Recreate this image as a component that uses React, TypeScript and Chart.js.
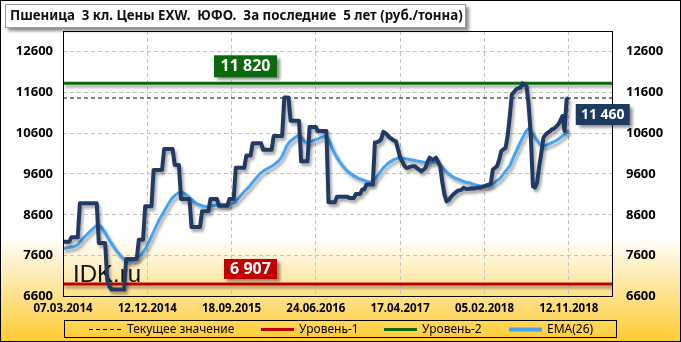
import React, { useEffect, useRef } from 'react';
import { Chart, registerables } from 'chart.js';
Chart.register(...registerables);

const TITLE = 'Пшеница  3 кл. Цены EXW.  ЮФО.  За последние  5 лет (руб./тонна)';
const dateLabels = ['07.03.2014', '12.12.2014', '18.09.2015', '24.06.2016', '17.04.2017', '05.02.2018', '12.11.2018'];
const labelStep = 40; // weeks between date labels
const weeksOnAxis = 261;
const yTicks = [6600, 7600, 8600, 9600, 10600, 11600, 12600];
const yMin = 6600;
const yMax = 13100;
const level1 = 6907;
const level2 = 11820;
const currentValue = 11460;
const legendNames = ['Текущее значение', 'Уровень-1', 'Уровень-2', 'EMA(26)'];

// weekly prices, rub/t
const price = [
  7940, 7940, 7940, 7940, 8050, 8050, 8050, 8050, 8880, 8880,
  8880, 8880, 8880, 8880, 8880, 8880, 8880, 7910, 7910, 7910,
  7910, 7000, 6850, 6770, 6770, 6770, 6770, 6770, 6770, 6770,
  7520, 7520, 7520, 7520, 7520, 7520, 7990, 7990, 7990, 8810,
  8810, 8810, 8810, 9700, 9700, 9700, 9700, 9700, 10210, 10210,
  10210, 10210, 10210, 9820, 9820, 9820, 8990, 8990, 8990, 8990,
  8990, 8300, 8300, 8300, 8300, 8300, 8690, 8690, 8690, 8690,
  8990, 8990, 8990, 8990, 8820, 8820, 8820, 8820, 8820, 8990,
  8990, 8990, 9750, 9750, 9750, 9750, 9750, 10050, 10050, 10050,
  10350, 10350, 10350, 10350, 10350, 10190, 10190, 10190, 10190, 10190,
  10530, 10530, 10530, 10530, 10530, 11470, 11470, 11470, 10900, 10900,
  10900, 10900, 10900, 9910, 9910, 9910, 9910, 10750, 10750, 10750,
  10750, 10650, 10650, 10650, 10650, 10650, 8910, 8910, 8910, 8910,
  9040, 9040, 9040, 9040, 9040, 9040, 9010, 9010, 9010, 9110,
  9110, 9110, 9220, 9220, 9340, 9340, 9340, 9340, 10370, 10380,
  10400, 10450, 10630, 10600, 10550, 10490, 10460, 10420, 10400, 10200,
  10000, 9900, 9800, 9750, 9760, 9780, 9790, 9790, 9740, 9710,
  9670, 9700, 9750, 9900, 10000, 9950, 9960, 10000, 9900, 9790,
  9400, 9100, 8930, 8960, 9030, 9090, 9130, 9180, 9200, 9210,
  9260, 9240, 9230, 9240, 9250, 9240, 9260, 9270, 9260, 9290,
  9300, 9320, 9340, 9360, 9710, 9750, 9790, 9950, 10160, 10200,
  10240, 10530, 11000, 11550, 11600, 11670, 11700, 11710, 11820, 11780,
  11750, 11260, 10530, 9300, 9270, 9400, 9790, 10120, 10490, 10560,
  10610, 10640, 10690, 10710, 10760, 10810, 10900, 11020, 10650, 11430,
  11460,
];

// EMA(26)
const ema = [
  7770, 7780, 7790, 7800, 7810, 7820, 7840, 7870, 7930, 7990,
  8050, 8100, 8150, 8200, 8250, 8300, 8340, 8350, 8310, 8240,
  8160, 8070, 7980, 7900, 7820, 7750, 7680, 7620, 7560, 7520,
  7490, 7470, 7460, 7470, 7490, 7530, 7580, 7620, 7680, 7760,
  7860, 7970, 8080, 8190, 8300, 8410, 8510, 8600, 8690, 8780,
  8870, 8950, 9020, 9070, 9110, 9140, 9150, 9140, 9110, 9070,
  9020, 8980, 8930, 8890, 8860, 8840, 8820, 8810, 8800, 8800,
  8810, 8820, 8830, 8840, 8850, 8850, 8850, 8850, 8850, 8860,
  8870, 8890, 8930, 8990, 9050, 9110, 9170, 9220, 9270, 9330,
  9400, 9460, 9520, 9580, 9630, 9670, 9700, 9730, 9760, 9790,
  9820, 9860, 9910, 9960, 10040, 10150, 10270, 10360, 10410, 10450,
  10490, 10520, 10550, 10510, 10440, 10380, 10360, 10380, 10400, 10420,
  10440, 10460, 10480, 10500, 10510, 10510, 10440, 10320, 10200, 10090,
  10000, 9920, 9850, 9780, 9720, 9670, 9630, 9590, 9560, 9530,
  9500, 9480, 9460, 9440, 9420, 9410, 9400, 9400, 9470, 9540,
  9610, 9680, 9750, 9800, 9850, 9890, 9920, 9950, 9970, 9990,
  10000, 9990, 9980, 9970, 9960, 9950, 9940, 9930, 9920, 9910,
  9900, 9890, 9880, 9870, 9870, 9880, 9890, 9890, 9870, 9820,
  9760, 9700, 9650, 9600, 9560, 9530, 9500, 9480, 9460, 9440,
  9420, 9400, 9390, 9380, 9360, 9340, 9330, 9320, 9310, 9300,
  9300, 9300, 9300, 9320, 9360, 9400, 9440, 9470, 9530, 9600,
  9670, 9730, 9800, 9920, 10040, 10150, 10260, 10370, 10480, 10580,
  10660, 10710, 10650, 10560, 10500, 10420, 10350, 10300, 10290, 10300,
  10320, 10340, 10370, 10390, 10420, 10450, 10490, 10530, 10570, 10620,
  10670,
];

const FONT = "'Noto Sans', 'DejaVu Sans', sans-serif";
const C_PRICE = '#203A63';
const C_EMA = '#42A4F4';
const C_GREEN = '#0B6A0B';
const C_RED = '#C00000';
const C_NAVY = '#1F3A5F';

function fmt(v: number) {
  const s = String(Math.round(v));
  return s.replace(/\B(?=(\d{3})+(?!\d))/g, ' ');
}

function drawBox(ctx: CanvasRenderingContext2D, x: number, y: number, w: number, h: number, bg: string, text: string, size: number) {
  ctx.save();
  ctx.shadowColor = 'rgba(0,0,0,0.45)';
  ctx.shadowOffsetX = 3;
  ctx.shadowOffsetY = 3;
  ctx.shadowBlur = 3;
  ctx.fillStyle = bg;
  ctx.fillRect(x, y, w, h);
  ctx.restore();
  ctx.save();
  ctx.fillStyle = '#fff';
  ctx.font = `bold ${size}px ${FONT}`;
  ctx.textAlign = 'center';
  ctx.textBaseline = 'middle';
  ctx.fillText(text, x + w / 2, y + h / 2 + 0.5);
  ctx.restore();
}

const decorPlugin = {
  id: 'decor',
  beforeDraw(chart: any) {
    const { ctx, width, height } = chart;
    ctx.save();
    const g = ctx.createLinearGradient(0, 0, 0, height);
    g.addColorStop(0, '#FFFFFF');
    g.addColorStop(0.69, '#FFFFFF');
    g.addColorStop(1, '#FFCC33');
    ctx.fillStyle = g;
    ctx.fillRect(0, 0, width, height);
    ctx.restore();
  },
  beforeDatasetsDraw(chart: any) {
    const { ctx, chartArea } = chart;
    ctx.save();
    ctx.font = `24px 'Liberation Sans', Arial, sans-serif`;
    ctx.fillStyle = '#111';
    ctx.textBaseline = 'alphabetic';
    ctx.fillText('IDK.ru', chartArea.left + 10, chartArea.bottom - 14.5);
    ctx.restore();
  },
  beforeDatasetDraw(chart: any, args: any) {
    const ds = chart.data.datasets[args.index];
    const ctx = chart.ctx;
    ctx.save();
    if (ds.shadow) {
      ctx.shadowColor = 'rgba(0,0,0,0.35)';
      ctx.shadowOffsetX = 2;
      ctx.shadowOffsetY = 3;
      ctx.shadowBlur = 3;
    }
  },
  afterDatasetDraw(chart: any) {
    chart.ctx.restore();
  },
  afterDraw(chart: any) {
    const { ctx, chartArea, width, height } = chart;
    const xs = chart.scales.x;
    const ys = chart.scales.y;
    // plot frame
    ctx.save();
    ctx.strokeStyle = '#000';
    ctx.lineWidth = 1;
    ctx.strokeRect(Math.round(chartArea.left) + 0.5, Math.round(chartArea.top) + 0.5,
      Math.round(chartArea.right - chartArea.left) - 1, Math.round(chartArea.bottom - chartArea.top) - 1);
    ctx.restore();

    // level labels
    const y2 = ys.getPixelForValue(level2);
    drawBox(ctx, chartArea.left + 151, y2 - 28, 63, 22, C_GREEN, fmt(level2), 16);
    const y1 = ys.getPixelForValue(level1);
    drawBox(ctx, chartArea.left + 161, y1 - 25, 53, 20, C_RED, fmt(level1), 16);
    const xl = xs.getPixelForValue(price.length - 1);
    const yc = ys.getPixelForValue(currentValue);
    drawBox(ctx, xl + 7, yc + 6, 54, 21, C_NAVY, fmt(currentValue), 14);

    // title box
    ctx.save();
    ctx.shadowColor = 'rgba(0,0,0,0.45)';
    ctx.shadowOffsetX = 3;
    ctx.shadowOffsetY = 3;
    ctx.shadowBlur = 3;
    ctx.fillStyle = '#fff';
    ctx.fillRect(5, 4, 461, 24);
    ctx.restore();
    ctx.save();
    ctx.strokeStyle = '#9a9a9a';
    ctx.strokeRect(5.5, 4.5, 460, 23);
    ctx.fillStyle = '#111';
    ctx.font = `bold 13.3px ${FONT}`;
    ctx.textBaseline = 'middle';
    ctx.fillText(TITLE, 10, 16.5);
    ctx.restore();

    // legend
    ctx.save();
    ctx.strokeStyle = '#000';
    ctx.lineWidth = 1;
    ctx.strokeRect(64.5, 320.5, 552, 17);
    const ly = 329.5;
    const items = [
      { x: 89, color: '#000', dash: [4, 3], w: 1 },
      { x: 261, color: C_RED, dash: [], w: 3 },
      { x: 384, color: C_GREEN, dash: [], w: 3 },
      { x: 509, color: C_EMA, dash: [], w: 4 },
    ];
    items.forEach((it, k) => {
      ctx.beginPath();
      ctx.setLineDash(it.dash);
      ctx.strokeStyle = it.color;
      ctx.lineWidth = it.w;
      ctx.moveTo(it.x, ly);
      ctx.lineTo(it.x + 33, ly);
      ctx.stroke();
      ctx.setLineDash([]);
      ctx.fillStyle = '#000';
      ctx.font = `12px ${FONT}`;
      ctx.textBaseline = 'middle';
      ctx.fillText(legendNames[k], it.x + 38, ly);
    });
    ctx.restore();

    // outer frame
    ctx.save();
    ctx.strokeStyle = '#000';
    ctx.lineWidth = 1;
    ctx.strokeRect(0.5, 0.5, width - 1, height - 1);
    ctx.restore();
  },
};

export default function App() {
  const ref = useRef<HTMLCanvasElement | null>(null);
  useEffect(() => {
    if (!ref.current) return;
    const xTickIdx = dateLabels.map((_, k) => k * labelStep);
    const flat = (v: number) => [{ x: 0, y: v }, { x: weeksOnAxis, y: v }];
    const yAxisTicks = (s: any) => { s.ticks = yTicks.map((v) => ({ value: v })); };
    const yLabel = (v: any) => String(v);
    const chart = new Chart(ref.current, {
      type: 'line',
      data: {
        datasets: [
          { label: 'price', data: price.map((v, i) => ({ x: i, y: v })), borderColor: C_PRICE, borderWidth: 4, pointRadius: 0, tension: 0, borderJoinStyle: 'round', shadow: true } as any,
          { label: 'EMA(26)', data: ema.map((v, i) => ({ x: i, y: v })), borderColor: C_EMA, borderWidth: 3, pointRadius: 0, tension: 0, borderJoinStyle: 'round', shadow: true } as any,
          { label: 'current', data: flat(currentValue), borderColor: '#000', borderWidth: 1, borderDash: [4, 3], pointRadius: 0 } as any,
          { label: 'level2', data: flat(level2), borderColor: C_GREEN, borderWidth: 3, pointRadius: 0, shadow: true } as any,
          { label: 'level1', data: flat(level1), borderColor: C_RED, borderWidth: 3, pointRadius: 0, shadow: true } as any,
        ],
      },
      options: {
        animation: false,
        responsive: false,
        devicePixelRatio: 1,
        layout: { padding: { top: 31, left: 0, right: 0, bottom: 0 } },
        plugins: { legend: { display: false }, tooltip: { enabled: false }, title: { display: false } },
        scales: {
          x: {
            type: 'linear',
            min: 0,
            max: weeksOnAxis,
            afterBuildTicks: (s: any) => { s.ticks = xTickIdx.map((v) => ({ value: v })); },
            afterFit: (s: any) => { s.height = 45.5; },
            ticks: {
              autoSkip: false,
              maxRotation: 0,
              padding: 5,
              color: '#000',
              font: { family: FONT, size: 11.5, weight: 'bold' },
              callback: (v: any) => dateLabels[Math.round(Number(v) / labelStep)] ?? '',
            },
            grid: { color: '#C4C4C4', lineWidth: 1, drawTicks: false },
            border: { display: false, dash: [4, 3] },
          },
          y: {
            type: 'linear',
            position: 'left',
            min: yMin,
            max: yMax,
            afterBuildTicks: yAxisTicks,
            afterFit: (s: any) => { s.width = 63; },
            ticks: { padding: 10, color: '#000', font: { family: FONT, size: 13, weight: 'bold' }, callback: yLabel },
            grid: { color: '#C4C4C4', lineWidth: 1, drawTicks: false },
            border: { display: false, dash: [4, 3] },
          },
          y2: {
            type: 'linear',
            position: 'right',
            min: yMin,
            max: yMax,
            afterBuildTicks: yAxisTicks,
            afterFit: (s: any) => { s.width = 68; },
            ticks: { padding: 13, color: '#000', font: { family: FONT, size: 13, weight: 'bold' }, callback: yLabel },
            grid: { display: false, drawTicks: false },
            border: { display: false },
          },
        },
      } as any,
      plugins: [decorPlugin],
    });
    return () => chart.destroy();
  }, []);
  return (
    <div style={{ position: 'absolute', left: 0, top: 0, width: 681, height: 342 }}>
      <canvas ref={ref} width={681} height={342} style={{ display: 'block', width: 681, height: 342 }} />
    </div>
  );
}
